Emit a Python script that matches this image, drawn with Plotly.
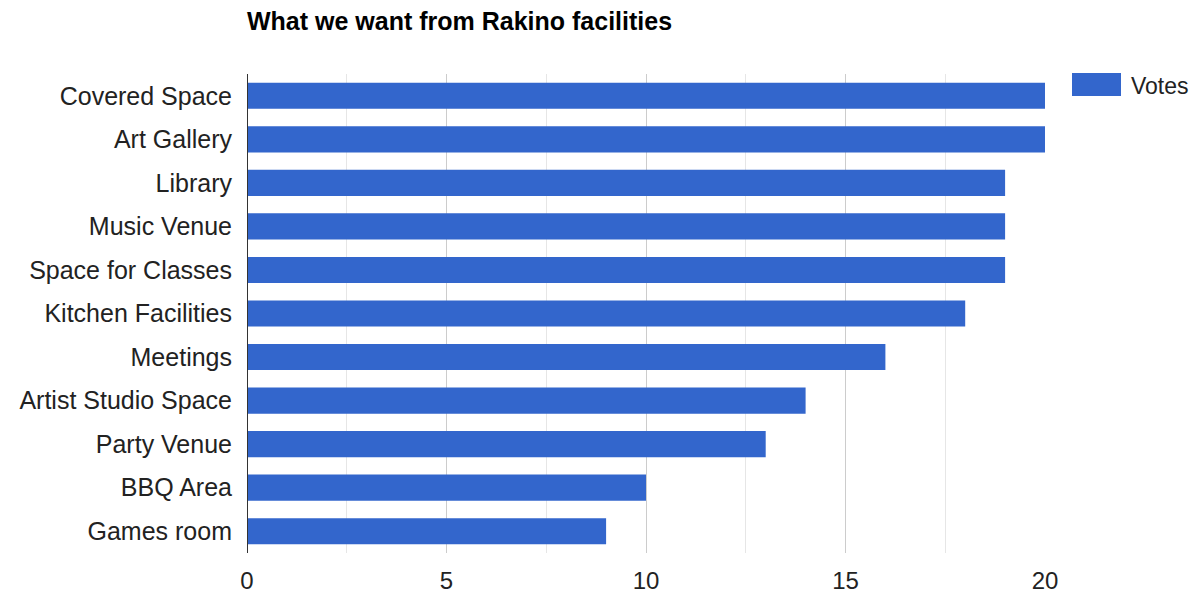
import plotly.graph_objects as go

categories = ["Covered Space", "Art Gallery", "Library", "Music Venue", "Space for Classes",
              "Kitchen Facilities", "Meetings", "Artist Studio Space", "Party Venue",
              "BBQ Area", "Games room"]
votes = [20, 20, 19, 19, 19, 18, 16, 14, 13, 10, 9]
tick_vals = [0, 5, 10, 15, 20]
series_name = "Votes"
bar_color = "#3366CC"

W, H = 1190, 588
L, T = 239, 66
PW, PH = 798, 479

fig = go.Figure()
fig.add_trace(go.Bar(
    x=votes, y=categories, orientation="h", name=series_name,
    marker=dict(color=bar_color, line=dict(width=0)), showlegend=False,
))

fig.update_layout(
    width=W, height=H,
    margin=dict(l=L, r=W - L - PW, t=T, b=H - T - PH, autoexpand=False),
    paper_bgcolor="white", plot_bgcolor="white",
    font=dict(family="Liberation Sans, Arial, sans-serif", size=24, color="#222"),
    title=dict(text="<b>What we want from Rakino facilities</b>", x=L / W, xanchor="left",
               y=1 - 13 / H, yanchor="middle", font=dict(size=25, color="#000")),
    bargap=0.4,
    xaxis=dict(range=[0, 20], tickvals=tick_vals, showgrid=True, gridcolor="#cccccc", gridwidth=1,
               minor=dict(dtick=2.5, tick0=0, showgrid=True, gridcolor="#e6e6e6", gridwidth=1),
               zeroline=False, showline=False, ticks="", ticklabelstandoff=11,
               tickfont=dict(size=24, color="#222")),
    yaxis=dict(categoryorder="array", categoryarray=categories[::-1], showgrid=False,
               zeroline=False, showline=False, ticks="", ticklabelstandoff=14,
               tickfont=dict(size=25, color="#222")),
)
# axis baseline at zero
fig.add_shape(type="line", xref="x", yref="paper", x0=0, x1=0, y0=0, y1=1,
              line=dict(color="#333333", width=2))
# legend swatch
fig.add_shape(type="rect", xref="paper", yref="paper",
              x0=(1064 - L) / PW, x1=(1113 - L) / PW, y0=1 - (88 - T) / PH, y1=1 + 1 / PH,
              fillcolor=bar_color, line=dict(width=0))
fig.add_annotation(xref="paper", yref="paper", x=(1121 - L) / PW, y=1 - (78 - T) / PH,
                   text=series_name, showarrow=False, xanchor="left", yanchor="middle",
                   font=dict(size=23, color="#222"))
fig.write_html("out.html")
